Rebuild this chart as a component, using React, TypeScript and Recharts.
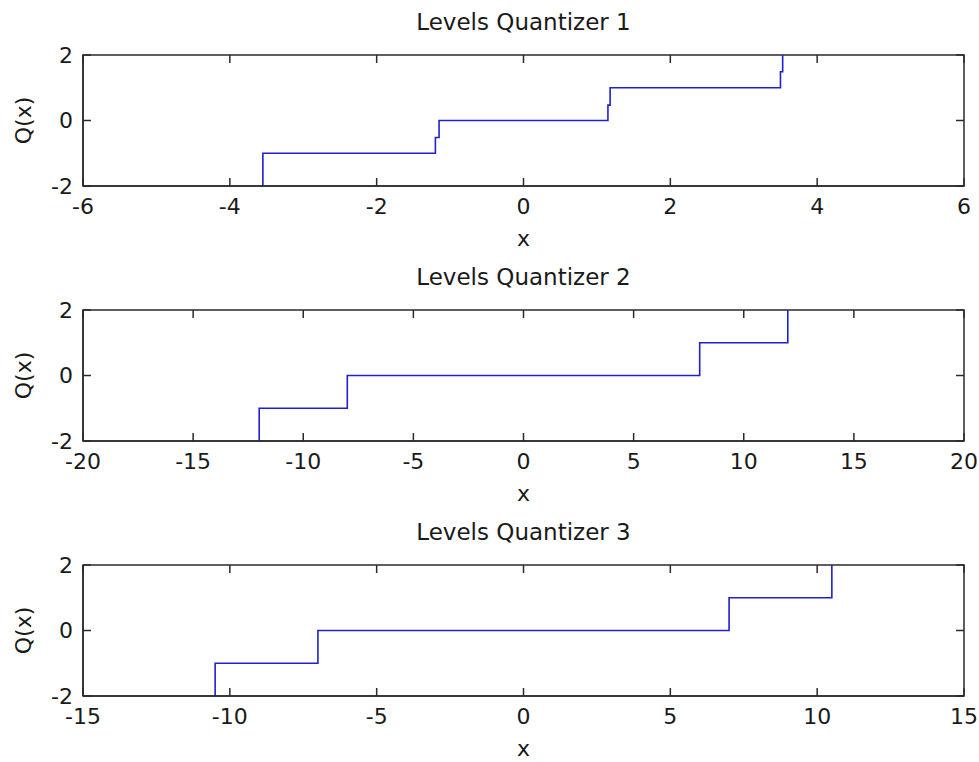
import React from 'react';
import { LineChart, Line, XAxis, YAxis, Label, ReferenceArea } from 'recharts';

// quantizer staircases (x = break points, y = levels)
const q1X = [-3.55, -3.55, -1.2, -1.2, -1.15, -1.15, 1.15, 1.15, 1.18, 1.18, 3.5, 3.5, 3.53, 3.53];
const q1Y = [-2, -1, -1, -0.52, -0.52, 0, 0, 0.47, 0.47, 1, 1, 1.49, 1.49, 2];

const q2X = [-12, -12, -8, -8, 8, 8, 12, 12];
const q2Y = [-2, -1, -1, 0, 0, 1, 1, 2];

const q3X = [-10.5, -10.5, -7, -7, 7, 7, 10.5, 10.5];
const q3Y = [-2, -1, -1, 0, 0, 1, 1, 2];

const xTicks1 = [-6, -4, -2, 0, 2, 4, 6];
const xTicks2 = [-20, -15, -10, -5, 0, 5, 10, 15, 20];
const xTicks3 = [-15, -10, -5, 0, 5, 10, 15];
const yTicks = [-2, 0, 2];

const titles = ['Levels Quantizer 1', 'Levels Quantizer 2', 'Levels Quantizer 3'];

const CHART_W = 979;
const CHART_H = 255;
const PLOT_LEFT = 83;
const PLOT_RIGHT = 964;
const PLOT_TOP = 55;
const PLOT_BOTTOM = 186;
const TICK_LEN = 8;
const AXIS_COLOR = '#2b2b2b';
const LINE_COLOR = '#2020d0';
const TEXT_COLOR = '#1a1a1a';
const FONT = '"DejaVu Sans", sans-serif';

const axisStyle = { stroke: AXIS_COLOR, strokeWidth: 1.5 };

const toPoints = (xs: number[], ys: number[]) => xs.map((x, i) => ({ x, y: ys[i] }));

// MATLAB style: ticks point inward, mirrored on the opposite side
const BottomTick = (props: any) => {
  const { x, payload } = props;
  return (
    <g>
      <line x1={x} x2={x} y1={PLOT_BOTTOM} y2={PLOT_BOTTOM - TICK_LEN} stroke={AXIS_COLOR} strokeWidth={1.5} />
      <line x1={x} x2={x} y1={PLOT_TOP} y2={PLOT_TOP + TICK_LEN} stroke={AXIS_COLOR} strokeWidth={1.5} />
      <text x={x} y={PLOT_BOTTOM + 28} textAnchor="middle" fontSize={22} fontFamily={FONT} fill={TEXT_COLOR}>
        {payload.value}
      </text>
    </g>
  );
};

const LeftTick = (props: any) => {
  const { y, payload } = props;
  return (
    <g>
      <line x1={PLOT_LEFT} x2={PLOT_LEFT + TICK_LEN} y1={y} y2={y} stroke={AXIS_COLOR} strokeWidth={1.5} />
      <line x1={PLOT_RIGHT} x2={PLOT_RIGHT - TICK_LEN} y1={y} y2={y} stroke={AXIS_COLOR} strokeWidth={1.5} />
      <text x={PLOT_LEFT - 10} y={y} dy="0.36em" textAnchor="end" fontSize={22} fontFamily={FONT} fill={TEXT_COLOR}>
        {payload.value}
      </text>
    </g>
  );
};

interface SubplotProps {
  title: string;
  xs: number[];
  ys: number[];
  ticks: number[];
  top: number;
}

const Subplot: React.FC<SubplotProps> = ({ title, xs, ys, ticks, top }) => {
  const data = toPoints(xs, ys);
  const domain: [number, number] = [ticks[0], ticks[ticks.length - 1]];
  const yDomain: [number, number] = [yTicks[0], yTicks[yTicks.length - 1]];
  return (
    <div style={{ position: 'absolute', left: 0, top, width: CHART_W, height: CHART_H }}>
      <LineChart
        width={CHART_W}
        height={CHART_H}
        data={data}
        margin={{ top: PLOT_TOP, right: CHART_W - PLOT_RIGHT, bottom: 0, left: 0 }}
      >
        <XAxis
          dataKey="x"
          type="number"
          domain={domain}
          ticks={ticks}
          interval={0}
          allowDataOverflow
          height={CHART_H - PLOT_BOTTOM}
          tickLine={false}
          axisLine={axisStyle}
          tick={BottomTick}
        >
          <Label value="x" position="insideBottom" offset={9} fontSize={22} fontFamily={FONT} fill={TEXT_COLOR} />
        </XAxis>
        <YAxis
          type="number"
          domain={yDomain}
          ticks={yTicks}
          interval={0}
          allowDataOverflow
          width={PLOT_LEFT}
          tickLine={false}
          axisLine={axisStyle}
          tick={LeftTick}
        >
          <Label
            value="Q(x)"
            angle={-90}
            position="insideLeft"
            offset={23}
            fontSize={22}
            fontFamily={FONT}
            fill={TEXT_COLOR}
            style={{ textAnchor: 'middle' }}
          />
        </YAxis>
        {/* box around the axes */}
        <ReferenceArea
          x1={domain[0]}
          x2={domain[1]}
          y1={yDomain[0]}
          y2={yDomain[1]}
          fill="none"
          fillOpacity={0}
          stroke={AXIS_COLOR}
          strokeWidth={1.5}
          ifOverflow="visible"
        />
        <Line
          dataKey="y"
          type="linear"
          stroke={LINE_COLOR}
          strokeWidth={1.6}
          dot={false}
          activeDot={false}
          isAnimationActive={false}
        />
      </LineChart>
      <div
        style={{
          position: 'absolute',
          left: PLOT_LEFT,
          width: PLOT_RIGHT - PLOT_LEFT,
          top: 8,
          textAlign: 'center',
          fontSize: 23,
          lineHeight: '28px',
          fontFamily: FONT,
          color: TEXT_COLOR,
        }}
      >
        {title}
      </div>
    </div>
  );
};

export default function App() {
  return (
    <div
      style={{
        position: 'absolute',
        left: 0,
        top: 0,
        width: CHART_W,
        height: 762,
        background: '#fff',
        overflow: 'hidden',
      }}
    >
      <Subplot title={titles[0]} xs={q1X} ys={q1Y} ticks={xTicks1} top={0} />
      <Subplot title={titles[1]} xs={q2X} ys={q2Y} ticks={xTicks2} top={255} />
      <Subplot title={titles[2]} xs={q3X} ys={q3Y} ticks={xTicks3} top={510} />
    </div>
  );
}
